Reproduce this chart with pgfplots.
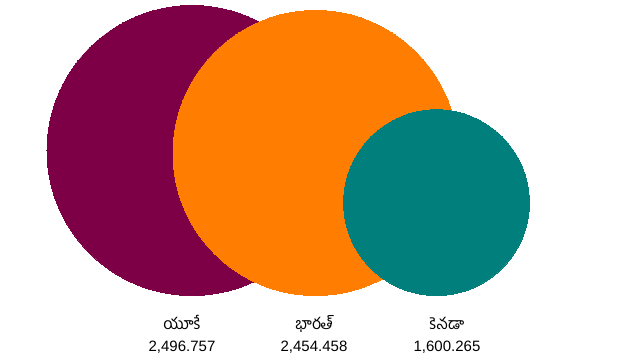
\documentclass[border=0pt]{standalone}
\usepackage{fontspec}
\setmainfont{Liberation Sans}
\newfontfamily\telugu[Script=Telugu]{Hind Guntur}
\usepackage{pgfplots}
\pgfplotsset{compat=1.18}
\usepackage{pgfplotstable}
\definecolor{cuk}{HTML}{7D0046}
\definecolor{cin}{HTML}{FF7D00}
\definecolor{cca}{HTML}{007F7C}
% x, y in picture pixels (y upward), r = radius proportional to value
\pgfplotstableread{
x y r value
192 209.5 145.0 2496.757
315.5 207.0 142.5 2454.458
436.5 157.4 92.9 1600.265
}\bubbles
\begin{document}
\begin{tikzpicture}
\begin{axis}[
  width=640bp, height=360bp, scale only axis,
  xmin=0, xmax=640, ymin=0, ymax=360,
  hide axis, clip=false,
]
\path[use as bounding box] (rel axis cs:0,0) rectangle (rel axis cs:1,1);
\addplot[only marks, mark=*, mark options={draw=cuk,fill=cuk,line width=0pt},
  mark size=145.0bp] table[x=x,y=y,skip coords between index={1}{3}] {\bubbles};
\addplot[only marks, mark=*, mark options={draw=cin,fill=cin,line width=0pt},
  mark size=142.5bp] table[x=x,y=y,skip coords between index={0}{1},skip coords between index={2}{3}] {\bubbles};
\addplot[only marks, mark=*, mark options={draw=cca,fill=cca,line width=0pt},
  mark size=92.9bp] table[x=x,y=y,skip coords between index={0}{2}] {\bubbles};
\tikzset{tel/.style={font=\telugu\fontsize{16bp}{18bp}\selectfont, anchor=base, inner sep=0pt},
  num/.style={font=\fontsize{15bp}{16bp}\selectfont, anchor=base, inner sep=0pt}}
\node[tel] at (axis cs:182,31) {యూకే};
\node[tel] at (axis cs:314,31) {భారత్};
\node[tel] at (axis cs:447,31) {కెనడా};
\node[num] at (axis cs:182,9) {2,496.757};
\node[num] at (axis cs:314,9) {2,454.458};
\node[num] at (axis cs:447,9) {1,600.265};
\end{axis}
\end{tikzpicture}
\end{document}
